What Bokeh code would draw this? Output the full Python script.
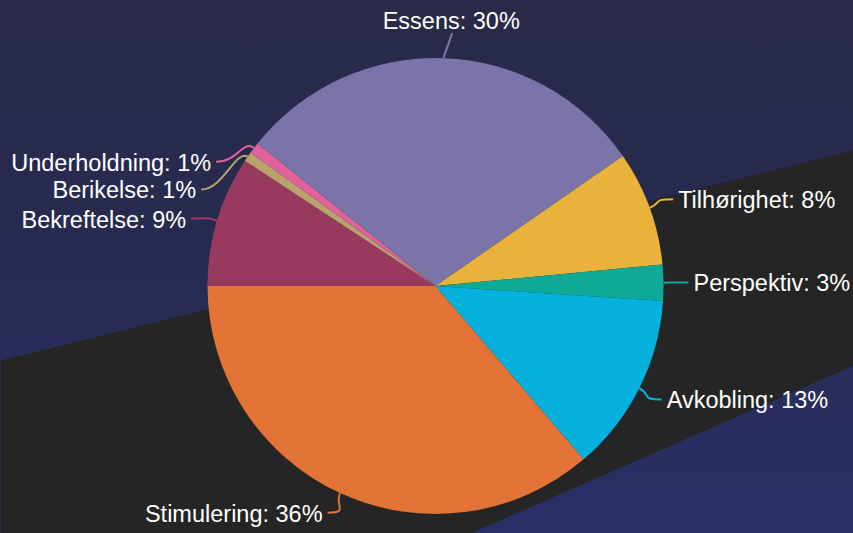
import numpy as np
from bokeh.plotting import figure
from bokeh.models import Range1d, ColumnDataSource, GlobalInlineStyleSheet, InlineStyleSheet
from bokeh.core.properties import value
from bokeh.embed import file_html
from bokeh.resources import INLINE

# ---------------- data ----------------
categories = ["Bekreftelse", "Berikelse", "Underholdning", "Essens",
              "Tilhørighet", "Perspektiv", "Avkobling", "Stimulering"]
shares = [9.25, 0.7, 0.8, 29.6, 8.15, 2.55, 12.7, 36.25]
colors = ["#983a5e", "#b9a26c", "#e0629b", "#7a74a8",
          "#e9b23a", "#0eaa98", "#07b1dd", "#e37337"]

# ---------------- layout ----------------
W, H = 853, 533
CX, CY, R = 435, 533 - 285.5, 228
LABEL_R = R + 25
FONT_SIZE = "23.5px"
# label nudges (dx, dy in screen px, y down) for crowded labels
nudges = {"Essens": (8, 0), "Bekreftelse": (-2, 5), "Berikelse": (-26, 47),
          "Underholdning": (-18, 29), "Stimulering": (-2, -3)}

vals = np.array(shares, dtype=float)
frac = vals / vals.sum()
# start at the left (180deg) and go clockwise
start_deg = 180.0
ends = start_deg - np.cumsum(frac) * 360.0
starts = np.concatenate([[start_deg], ends[:-1]])
mids = (starts + ends) / 2.0

p = figure(width=W, height=H, output_backend="svg", toolbar_location=None,
           x_range=Range1d(0, W), y_range=Range1d(0, H), min_border=0,
           match_aspect=False)
p.axis.visible = False
p.grid.visible = False
p.outline_line_color = None
p.background_fill_alpha = 0
p.border_fill_alpha = 0
p.stylesheets = [
    GlobalInlineStyleSheet(css="html,body{margin:0;padding:0;overflow:hidden;background:#272a47;}"),
    InlineStyleSheet(css=":host{background:linear-gradient(to bottom,#282a47 0%,#272b52 50%,#2a3068 100%);}"),
]

# dark diagonal band (decoration)
band_x = [0, W, W, 470, 0]
band_y = [H - 360, H - 150, H - 365, 0, 0]
p.patch(band_x, band_y, fill_color="#252525", line_color=None)

# pie slices (wedge goes anticlockwise from start to end, so swap)
src = ColumnDataSource(dict(
    start=np.deg2rad(ends), end=np.deg2rad(starts), color=colors, cat=categories))
p.wedge(x=CX, y=CY, radius=R, start_angle="start", end_angle="end",
        fill_color="color", line_color=None, source=src)

# labels + connectors
for cat, m, sh, col in zip(categories, mids, frac * 100, colors):
    a = np.deg2rad(m)
    ux, uy = np.cos(a), np.sin(a)
    ex, ey = CX + R * ux, CY + R * uy
    lx, ly = CX + LABEL_R * ux, CY + LABEL_R * uy
    dx, dy = nudges.get(cat, (0, 0))
    lx += dx
    ly -= dy
    text = f"{cat}: {int(round(sh))}%"
    if abs(ux) < 0.2 and uy > 0:
        # top label: centered above connector end
        p.line([ex, lx], [ey, ly], line_color=col, line_width=2)
        p.text(x=[lx - 1], y=[ly + 12], text=[text], text_align="center",
               text_baseline="alphabetic", text_color="white",
               text_font=value("Liberation Sans"), text_font_size=FONT_SIZE)
        continue
    side = 1 if ux >= 0 else -1
    p.bezier(x0=[lx], y0=[ly], x1=[ex], y1=[ey],
             cx0=[lx - side * 22], cy0=[ly], cx1=[ex + ux * 14], cy1=[ey + uy * 14],
             line_color=col, line_width=2)
    p.text(x=[lx + side * 5], y=[ly - 1], text=[text],
           text_align="left" if side > 0 else "right",
           text_baseline="alphabetic", text_color="white",
           text_font=value("Liberation Sans"), text_font_size=FONT_SIZE)

open("out.html", "w").write(file_html(p, INLINE))
